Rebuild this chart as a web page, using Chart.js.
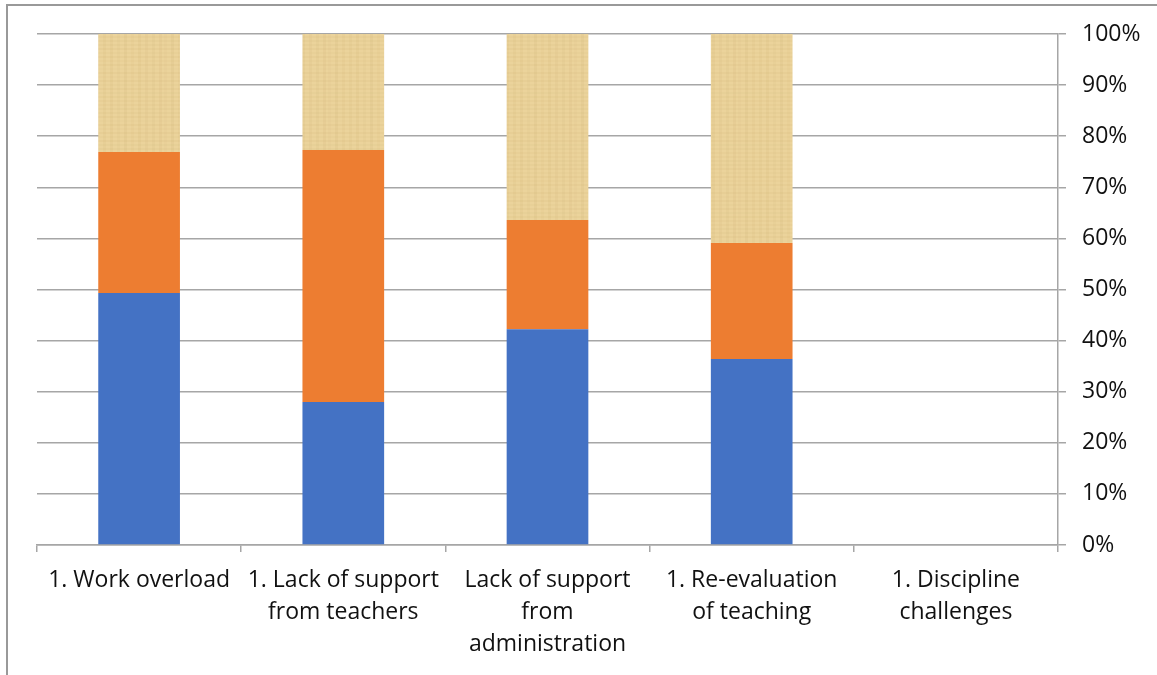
<!DOCTYPE html>
<html>
<head>
<meta charset="utf-8">
<script src="https://cdn.jsdelivr.net/npm/chart.js@4.4.1/dist/chart.umd.min.js"></script>
<style>
  html, body { margin: 0; padding: 0; background: #fff; }
  #wrap { position: relative; width: 1157px; height: 675px; overflow: hidden; }
  #frame { position: absolute; left: 6px; top: 4px; width: 1200px; height: 700px;
           border-left: 2px solid #999; border-top: 2px solid #999; }
  canvas { position: absolute; left: 0; top: 0; }
</style>
</head>
<body>
<div id="wrap">
  <div id="frame"></div>
  <canvas id="mycanvas" width="1157" height="675"></canvas>
</div>
<script>
var categories = [
  "1. Work overload",
  ["1. Lack of support", "from teachers"],
  ["Lack of support", "from", "administration"],
  ["1. Re-evaluation", "of teaching"],
  ["1. Discipline", "challenges"]
];
var blueValues   = [49.3, 28.0, 42.2, 36.4, 0];
var orangeValues = [27.6, 49.3, 21.4, 22.7, 0];
var tanValues    = [23.1, 22.7, 36.4, 40.9, 0];

// papyrus-like texture for the top series
function papyrus() {
  var c = document.createElement("canvas");
  c.width = 82; c.height = 120;
  var g = c.getContext("2d");
  g.fillStyle = "#ebd39b";
  g.fillRect(0, 0, c.width, c.height);
  for (var y = 0; y < c.height; y += 4) {
    var a = 0.05 + 0.08 * Math.abs(Math.sin(y * 0.37));
    g.fillStyle = "rgba(205,175,110," + a.toFixed(3) + ")";
    g.fillRect(0, y, c.width, 2);
  }
  for (var x = 0; x < c.width; x += 7) {
    var b = 0.04 + 0.07 * Math.abs(Math.sin(x * 0.71));
    g.fillStyle = "rgba(195,165,100," + b.toFixed(3) + ")";
    g.fillRect(x, 0, 3, c.height);
  }
  return g.createPattern(c, "repeat");
}

var ctx = document.getElementById("mycanvas").getContext("2d");
var tan = papyrus();
var tickFont = { family: "Open Sans", size: 23, lineHeight: 1.38 };

var chart = new Chart(ctx, {
  type: "bar",
  data: {
    labels: categories,
    datasets: [
      { label: "Series 1", data: blueValues, backgroundColor: "#4472c4" },
      { label: "Series 2", data: orangeValues, backgroundColor: "#ed7d31" },
      { label: "Series 3", data: tanValues, backgroundColor: tan }
    ]
  },
  options: {
    responsive: false,
    animation: false,
    layout: { padding: { left: 37, top: 34, right: 0, bottom: 0 } },
    plugins: { legend: { display: false }, tooltip: { enabled: false } },
    datasets: { bar: { barPercentage: 0.4, categoryPercentage: 1.0 } },
    scales: {
      x: {
        stacked: true,
        grid: { display: true, drawOnChartArea: false, drawTicks: true, tickLength: 7, color: "#a6a6a6", lineWidth: 1.5, offset: true },
        border: { display: true, color: "#a6a6a6", width: 1.5 },
        ticks: { color: "#111", font: tickFont, padding: 13, maxRotation: 0, autoSkip: false },
        afterFit: function (s) { s.height = 130; }
      },
      y: {
        stacked: true,
        position: "right",
        min: 0, max: 100,
        grid: { color: "#a6a6a6", lineWidth: 1.5, tickLength: 8 },
        border: { display: true, color: "#a6a6a6", width: 1.5 },
        ticks: { stepSize: 10, color: "#111", font: { family: "Open Sans", size: 23 }, padding: 16,
                 callback: function (v) { return v + "%"; } },
        afterFit: function (s) { s.width = 99; }
      }
    }
  }
});
</script>
</body>
</html>
